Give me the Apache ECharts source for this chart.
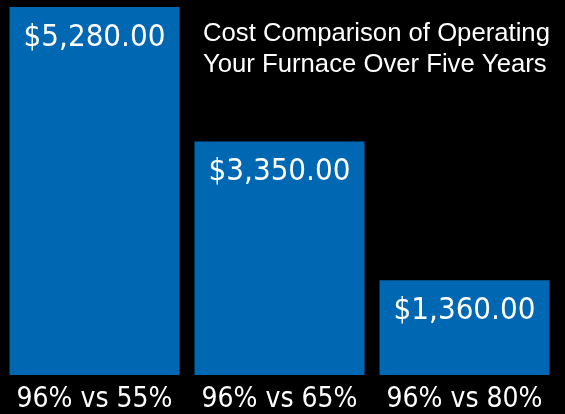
<!DOCTYPE html>
<html>
<head>
<meta charset="utf-8">
<script src="https://cdn.jsdelivr.net/npm/echarts@6/dist/echarts.min.js"></script>
<style>
  html, body { margin: 0; padding: 0; background: #000; }
  #chart { width: 565px; height: 414px; }
</style>
</head>
<body>
<div id="chart"></div>
<script>
// furnace efficiency comparisons and 5-year operating cost
var categories = ['96% vs 55%', '96% vs 65%', '96% vs 80%'];
var costs = [5280, 3350, 1360];
var titleLines = ['Cost Comparison of Operating', 'Your Furnace Over Five Years'];

var narrow = "'DejaVu Sans Condensed', 'Liberation Sans Narrow', sans-serif";

var chart = echarts.init(document.getElementById('chart'));

function money(v) {
  return '$' + v.toLocaleString('en-US', { minimumFractionDigits: 2, maximumFractionDigits: 2 });
}

chart.setOption({
  backgroundColor: '#000',
  animation: false,
  title: {
    text: titleLines.join('\n'),
    left: 203,
    top: 18,
    padding: 0,
    textStyle: {
      color: '#fff',
      fontFamily: 'Liberation Sans',
      fontWeight: 'normal',
      fontSize: 25.7,
      lineHeight: 31
    }
  },
  grid: {
    left: 2,
    right: 8,
    top: 7,
    bottom: 39,
    containLabel: false
  },
  xAxis: {
    type: 'category',
    data: categories,
    axisLine: { show: false },
    axisTick: { show: false },
    axisLabel: {
      color: '#fff',
      fontFamily: narrow,
      fontSize: 28,
      margin: 11,
      interval: 0,
      hideOverlap: false
    }
  },
  yAxis: {
    type: 'value',
    min: 0,
    max: 5280,
    show: false,
    splitLine: { show: false }
  },
  series: [
    {
      type: 'bar',
      data: costs,
      barWidth: 170,
      itemStyle: { color: '#0067b2' },
      label: {
        show: true,
        position: 'insideTop',
        distance: 15,
        formatter: function (p) { return money(p.value); },
        color: '#fff',
        fontFamily: narrow,
        fontSize: 31
      }
    }
  ]
});
</script>
</body>
</html>
